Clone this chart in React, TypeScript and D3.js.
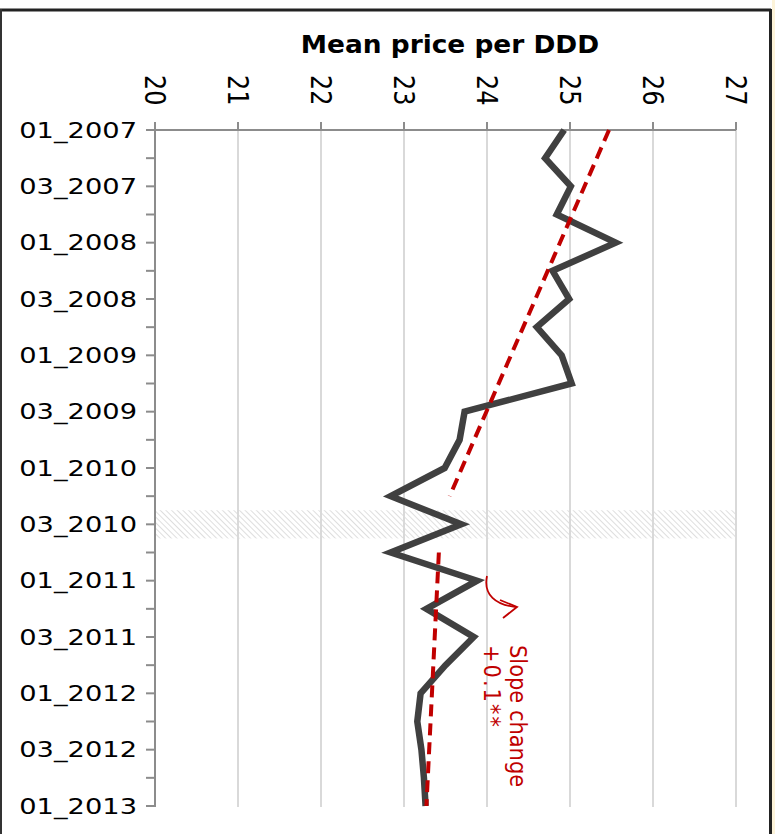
import React from 'react';
import * as d3 from 'd3';

const periods = [
  '01_2007', '02_2007', '03_2007', '04_2007',
  '01_2008', '02_2008', '03_2008', '04_2008',
  '01_2009', '02_2009', '03_2009', '04_2009',
  '01_2010', '02_2010', '03_2010', '04_2010',
  '01_2011', '02_2011', '03_2011', '04_2011',
  '01_2012', '02_2012', '03_2012', '04_2012',
  '01_2013',
];
const prices = [
  24.93, 24.7, 25.01, 24.84, 25.55, 24.79, 24.99, 24.6, 24.9, 25.02,
  23.73, 23.67, 23.49, 22.84, 23.69, 22.84, 23.88, 23.27, 23.84, 23.5,
  23.2, 23.16, 23.21, 23.24, 23.26,
];
const trendBefore = [
  { period: '01_2007', value: 25.47 },
  { period: '02_2010', value: 23.55 },
];
const trendAfter = [
  { period: '04_2010', value: 23.42 },
  { period: '01_2013', value: 23.27 },
];
const interventionPeriod = '03_2010';
const xTicks = [20, 21, 22, 23, 24, 25, 26, 27];
const title = 'Mean price per DDD';
const annotationLines = ['Slope change', '+0.1**'];

const W = 775;
const H = 834;
const SX = 1.2;

export default function App() {
  const x = d3.scaleLinear().domain([20, 27]).range([155, 736]);
  const y = d3.scalePoint<string>().domain(periods).range([130, 806]);
  const step = y.step();

  const line = d3
    .line<number>()
    .x((d) => x(d))
    .y((_, i) => y(periods[i]) as number);
  const tline = d3
    .line<{ period: string; value: number }>()
    .x((d) => x(d.value))
    .y((d) => y(d.period) as number);

  const iy = y(interventionPeriod) as number;
  const grey = '#8c8c8c';
  const red = '#c00000';

  return (
    <svg
      width={W}
      height={H}
      style={{ position: 'absolute', left: 0, top: 0, background: '#fff' }}
      fontFamily="'DejaVu Sans', Verdana, sans-serif"
    >
      <defs>
        <pattern id="hatch" width="4" height="4" patternUnits="userSpaceOnUse" patternTransform="rotate(-45)">
          <line x1="0" y1="0" x2="0" y2="4" stroke="#d6d6d6" strokeWidth="1.6" />
        </pattern>
      </defs>
      <rect x={0} y={0} width={W} height={H} fill="#fff" />
      <rect x={772} y={0} width={3} height={H} fill="#fcf3d9" />
      {/* frame */}
      <line x1={0} y1={10} x2={771} y2={10} stroke="#222" strokeWidth={3} />
      <line x1={1} y1={9} x2={1} y2={H} stroke="#333" strokeWidth={2} />
      <line x1={770.5} y1={9} x2={770.5} y2={H} stroke="#222" strokeWidth={3} />

      {/* intervention band */}
      <rect x={x(20)} y={iy - step / 2} width={x(27) - x(20)} height={step} fill="url(#hatch)" />

      {/* gridlines */}
      {xTicks.slice(1).map((t) => (
        <line key={t} x1={x(t)} x2={x(t)} y1={130} y2={807} stroke="#d9d9d9" strokeWidth={2} />
      ))}

      {/* top axis */}
      <line x1={x(20)} x2={x(27)} y1={130} y2={130} stroke={grey} strokeWidth={2} />
      {xTicks.map((t) => (
        <g key={t}>
          <line x1={x(t)} x2={x(t)} y1={122} y2={130} stroke={grey} strokeWidth={2} />
          <text
            transform={`translate(${x(t)},75) scale(${SX},1) rotate(90)`}
            fontSize={24}
            dominantBaseline="central"
            textAnchor="start"
            fill="#000"
          >
            {t}
          </text>
        </g>
      ))}

      {/* left axis */}
      <line x1={155} x2={155} y1={122} y2={807} stroke={grey} strokeWidth={2} />
      {periods.map((p) => (
        <line key={p} x1={146} x2={155} y1={y(p) as number} y2={y(p) as number} stroke={grey} strokeWidth={2} />
      ))}
      {periods
        .filter((p) => p.startsWith('01') || p.startsWith('03'))
        .map((p) => (
          <text
            key={p}
            transform={`translate(137,${y(p)}) scale(1.24,1)`}
            fontSize={22}
            textAnchor="end"
            dominantBaseline="central"
            fill="#000"
          >
            {p}
          </text>
        ))}

      {/* title */}
      <text
        transform={`translate(450,53) scale(1.1,1)`}
        fontSize={24}
        fontWeight="bold"
        textAnchor="middle"
        fill="#000"
      >
        {title}
      </text>

      {/* series */}
      <path d={line(prices) || ''} fill="none" stroke="#404040" strokeWidth={6.5} strokeLinejoin="miter" />
      <path d={tline(trendBefore) || ''} fill="none" stroke={red} strokeWidth={4} strokeDasharray="12 7" />
      <path d={tline(trendAfter) || ''} fill="none" stroke={red} strokeWidth={4} strokeDasharray="12 7" />

      {/* annotation */}
      <path d="M487,576 C483,595 496,605 516,607" fill="none" stroke={red} strokeWidth={1.8} />
      <path d="M500,600 L517,607 L503,618" fill="none" stroke={red} strokeWidth={1.8} />
      {annotationLines.map((s, i) => (
        <text
          key={s}
          transform={`translate(${518 - i * 26},645) scale(1.1,1) rotate(90)`}
          fontSize={21}
          letterSpacing={i === 1 ? 2 : 0}
          dominantBaseline="central"
          textAnchor="start"
          fill={red}
        >
          {s}
        </text>
      ))}
    </svg>
  );
}
